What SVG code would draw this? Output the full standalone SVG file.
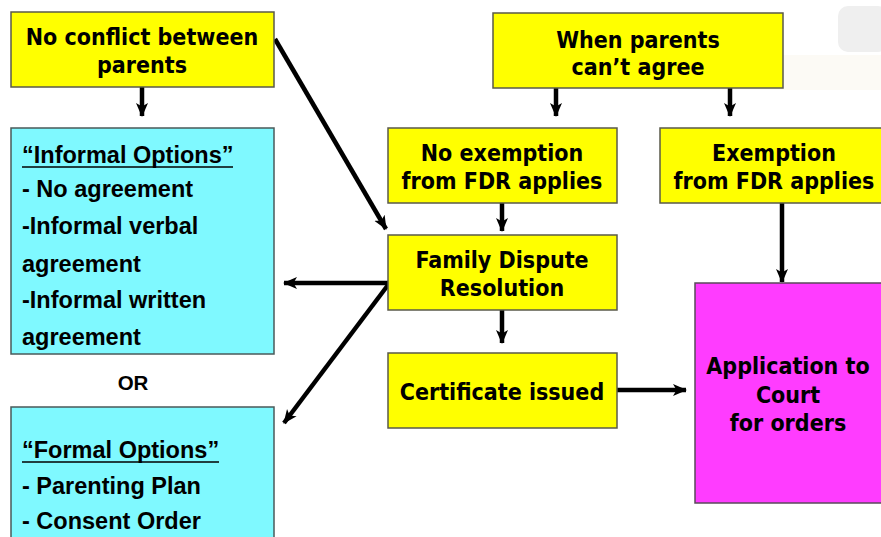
<svg xmlns="http://www.w3.org/2000/svg" width="881" height="537" viewBox="0 0 881 537">
<style>
.y{fill:#ffff00;stroke:#5a5a4a;stroke-width:1.5}
.c{fill:#7ff9ff;stroke:#4a5a5a;stroke-width:1.5}
.m{fill:#ff3cff;stroke:#5a4a5a;stroke-width:1.5}
.t{font-family:"DejaVu Sans Condensed","DejaVu Sans",sans-serif;font-weight:bold;font-size:23px;fill:#000;text-anchor:middle}
.a{font-family:"Liberation Sans",Arial,sans-serif;font-weight:bold;font-size:23.5px;fill:#000}
.e{stroke:#000;stroke-width:4.5;fill:none;marker-end:url(#ah)}
</style>
<defs>
<marker id="ah" markerUnits="userSpaceOnUse" markerWidth="15" markerHeight="15" viewBox="0 0 15 15" refX="13" refY="7.5" orient="auto">
<path d="M0,1.5 L14,7.5 L0,13.5 L3.5,7.5 z" fill="#000"/>
</marker>
</defs>
<rect width="881" height="537" fill="#fff"/>
<rect x="838" y="6" width="50" height="46" rx="10" fill="#efefef"/>
<rect x="700" y="55" width="181" height="35" fill="#fcfaf5"/>

<g id="connectors">
<line class="e" x1="142" y1="87" x2="142" y2="116"/>
<line class="e" x1="275" y1="39" x2="386" y2="229"/>
<line class="e" x1="556" y1="88" x2="556" y2="116"/>
<line class="e" x1="730" y1="88" x2="730" y2="116"/>
<line class="e" x1="502" y1="203" x2="502" y2="231"/>
<line class="e" x1="502" y1="310" x2="502" y2="343"/>
<line class="e" x1="617" y1="390" x2="686" y2="390"/>
<line class="e" x1="782" y1="203" x2="782" y2="282"/>
<line class="e" x1="388" y1="283" x2="284" y2="283"/>
<line class="e" x1="388" y1="285" x2="284" y2="423"/>
</g>

<g id="noconflict">
<rect class="y" x="11" y="12" width="263" height="75"/>
<text class="t" x="142" y="45">No conflict between</text>
<text class="t" x="142" y="73">parents</text>
</g>

<g id="cantagree">
<rect class="y" x="493" y="13" width="290" height="75"/>
<text class="t" x="638" y="48">When parents</text>
<text class="t" x="638" y="75">can’t agree</text>
</g>

<g id="informal">
<rect class="c" x="11" y="128" width="263" height="226"/>
<text class="a" x="22" y="163">“Informal Options”</text>
<line x1="22" y1="167" x2="233" y2="167" stroke="#000" stroke-width="1.6"/>
<text class="a" x="22" y="197">- No agreement</text>
<text class="a" x="22" y="234">-Informal verbal</text>
<text class="a" x="22" y="272">agreement</text>
<text class="a" x="22" y="308">-Informal written</text>
<text class="a" x="22" y="345">agreement</text>
</g>

<g id="or">
<text class="a" x="133" y="390" text-anchor="middle" style="font-size:20.5px">OR</text>
</g>

<g id="formal">
<rect class="c" x="11" y="407" width="263" height="140"/>
<text class="a" x="22" y="458">“Formal Options”</text>
<line x1="22" y1="462" x2="219" y2="462" stroke="#000" stroke-width="1.6"/>
<text class="a" x="22" y="494">- Parenting Plan</text>
<text class="a" x="22" y="529">- Consent Order</text>
</g>

<g id="noexemption">
<rect class="y" x="388" y="128" width="229" height="75"/>
<text class="t" x="502" y="161">No exemption</text>
<text class="t" x="502" y="189">from FDR applies</text>
</g>

<g id="exemption">
<rect class="y" x="660" y="128" width="230" height="75"/>
<text class="t" x="774" y="161">Exemption</text>
<text class="t" x="774" y="189">from FDR applies</text>
</g>

<g id="fdr">
<rect class="y" x="388" y="235" width="229" height="75"/>
<text class="t" x="502" y="268">Family Dispute</text>
<text class="t" x="502" y="296">Resolution</text>
</g>

<g id="certificate">
<rect class="y" x="388" y="353" width="229" height="75"/>
<text class="t" x="502" y="400">Certificate issued</text>
</g>

<g id="application">
<rect class="m" x="695" y="283" width="195" height="220"/>
<text class="t" x="788" y="374">Application to</text>
<text class="t" x="788" y="403">Court</text>
<text class="t" x="788" y="431">for orders</text>
</g>
</svg>
